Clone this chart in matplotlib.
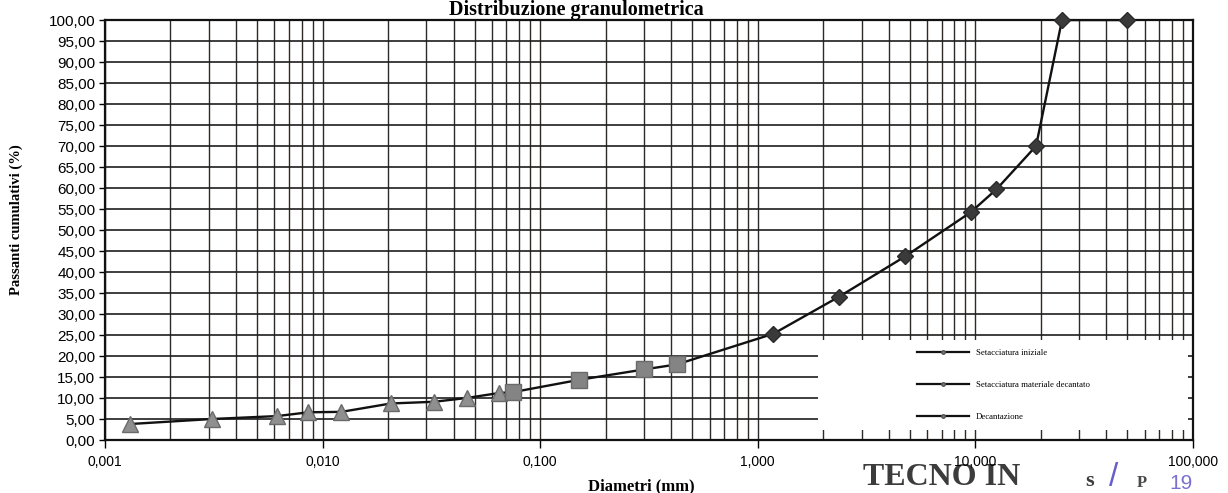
"""Curva granulometrica: setacciatura iniziale, setacciatura del materiale
decantato e decantazione, su asse dei diametri logaritmico."""

import matplotlib

matplotlib.use("Agg")
import matplotlib.pyplot as plt
from matplotlib.lines import Line2D
from matplotlib.patches import Rectangle
from matplotlib.ticker import FuncFormatter, LogLocator, MultipleLocator, NullFormatter

# Decantazione (sedimentazione)
dec_d = [0.0013, 0.0031, 0.0062, 0.0086, 0.0122, 0.0206, 0.0325, 0.0459, 0.0649]
dec_p = [3.8, 5.0, 5.7, 6.6, 6.7, 8.7, 9.1, 10.0, 11.2]

# Setacciatura materiale decantato
sdec_d = [0.075, 0.150, 0.300, 0.425]
sdec_p = [11.4, 14.3, 16.8, 18.0]

# Setacciatura iniziale
sin_d = [1.18, 2.36, 4.75, 9.5, 12.5, 19.0, 25.0, 50.0]
sin_p = [25.3, 34.1, 43.7, 54.2, 59.7, 70.0, 100.0, 100.0]

series_labels = [
    "Setacciatura iniziale",
    "Setacciatura materiale decantato",
    "Decantazione",
]

SANS = ["Liberation Sans", "DejaVu Sans"]
SERIF = ["Liberation Serif", "DejaVu Serif"]


def fmt_comma(decimals):
    return FuncFormatter(lambda v, _: f"{v:.{decimals}f}".replace(".", ","))


fig = plt.figure(figsize=(12.28, 4.93), dpi=100)
ax = fig.add_axes([0.0855, 0.1075, 0.886, 0.8519])

ax.set_xscale("log")
ax.set_xlim(0.001, 100)
ax.set_ylim(0, 100)

ax.xaxis.set_major_locator(LogLocator(base=10))
ax.xaxis.set_minor_locator(LogLocator(base=10, subs=range(2, 10)))
ax.xaxis.set_major_formatter(fmt_comma(3))
ax.xaxis.set_minor_formatter(NullFormatter())
ax.yaxis.set_major_locator(MultipleLocator(5))
ax.yaxis.set_major_formatter(fmt_comma(2))

ax.grid(True, which="both", axis="x", color="#2e2a28", linewidth=1.0, zorder=1)
ax.grid(True, which="major", axis="y", color="#1e1e1e", linewidth=1.2, zorder=1)
ax.set_axisbelow(True)

ax.tick_params(axis="x", which="major", direction="out", length=6, width=1,
               pad=5, labelsize=10)
ax.tick_params(axis="x", which="minor", length=0)
ax.tick_params(axis="y", which="major", direction="out", length=4, width=1,
               pad=3, labelsize=11)
for lab in ax.get_xticklabels() + ax.get_yticklabels():
    lab.set_family(SANS)
for sp in ax.spines.values():
    sp.set_linewidth(1.6)
    sp.set_color("#111111")

# curva continua attraverso tutte le prove
all_d = dec_d + sdec_d + sin_d
all_p = dec_p + sdec_p + sin_p
ax.plot(all_d, all_p, color="#111111", linewidth=1.7, zorder=3)

ax.plot(dec_d, dec_p, linestyle="none", marker="^", markersize=11,
        markerfacecolor="#8f8f8f", markeredgecolor="#6a6a6a", zorder=4)
ax.plot(sdec_d, sdec_p, linestyle="none", marker="s", markersize=11,
        markerfacecolor="#848484", markeredgecolor="#6a6a6a", zorder=4)
ax.plot(sin_d, sin_p, linestyle="none", marker="D", markersize=8,
        markerfacecolor="#3a3a3a", markeredgecolor="#2a2a2a", zorder=5,
        clip_on=False)

# riquadro legenda
ax.add_patch(Rectangle((0.655, 0.024), 0.34, 0.214, transform=ax.transAxes,
                       facecolor="white", edgecolor="none", zorder=2.5))
handles = [
    Line2D([], [], color="#111111", linewidth=1.6, marker="o", markersize=2.5,
           markerfacecolor="#777777", markeredgecolor="#555555")
    for _ in series_labels
]
leg = ax.legend(handles, series_labels, loc="upper left",
                bbox_to_anchor=(0.746, 0.218), frameon=False, borderpad=0,
                borderaxespad=0, handlelength=6.0, handletextpad=0.8,
                labelspacing=2.75, prop={"family": SERIF, "size": 6.3})
leg.set_zorder(6)

fig.text(0.469, 0.979, "Distribuzione granulometrica", ha="center", va="center",
         family=SERIF, fontweight="bold", fontsize=14.5)
fig.text(0.013, 0.554, "Passanti cumulativi (%)", ha="center", va="center",
         rotation=90, family=SERIF, fontweight="bold", fontsize=10.5)
fig.text(0.522, 0.014, "Diametri (mm)", ha="center", va="center",
         family=SERIF, fontweight="bold", fontsize=12)

# timbro del laboratorio, sotto le etichette dell'asse
stamp = dict(ha="left", va="bottom", zorder=-1)
fig.text(0.703, 0.002, "TECNO IN", family=SERIF, fontweight="bold",
         fontsize=23, color="#3c3c3c", **stamp)
fig.text(0.884, 0.004, "s", family=SERIF, fontweight="bold", fontsize=16,
         color="#3c3c3c", **stamp)
fig.text(0.903, 0.0, "/", family=SANS, fontsize=24, color="#6a5ec8", **stamp)
fig.text(0.926, 0.004, "P", family=SERIF, fontweight="bold", fontsize=12,
         color="#4a4a4a", **stamp)
fig.text(0.952, 0.0, "19", family=SANS, fontsize=15, color="#7a70d0", **stamp)

fig.savefig("out.png", dpi=100)
